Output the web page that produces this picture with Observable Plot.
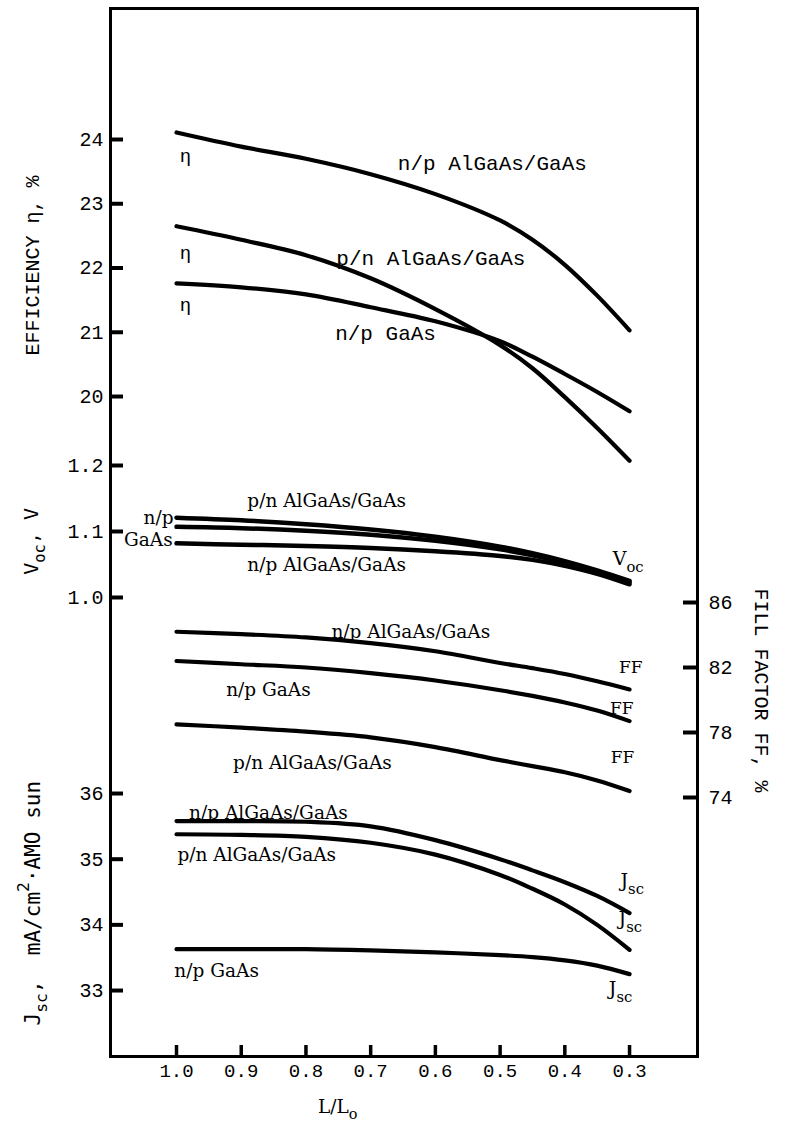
<!DOCTYPE html>
<html>
<head>
<meta charset="utf-8">
<script src="https://cdn.jsdelivr.net/npm/d3@7"></script>
<script src="https://cdn.jsdelivr.net/npm/@observablehq/plot@0.6"></script>
<style>
  html, body { margin: 0; padding: 0; background: #fff; }
  #chart { width: 785px; height: 1135px; }
</style>
</head>
<body>
<div id="chart"></div>
<script>
// ---- x positions (L/Lo) ----
const lRatio = [1.0, 0.9, 0.8, 0.7, 0.6, 0.5, 0.45, 0.4, 0.35, 0.3];
const xTicks = [1.0, 0.9, 0.8, 0.7, 0.6, 0.5, 0.4, 0.3];

// ---- efficiency, % ----
const effNpAlGaAs = [24.11, 23.89, 23.70, 23.46, 23.15, 22.74, 22.44, 22.05, 21.57, 21.03];
const effPnAlGaAs = [22.65, 22.44, 22.20, 21.84, 21.36, 20.80, 20.44, 19.99, 19.51, 19.00];
const effNpGaAs   = [21.76, 21.70, 21.59, 21.39, 21.17, 20.86, 20.62, 20.35, 20.07, 19.77];

// ---- Voc, V ----
const vocPnAlGaAs = [1.121, 1.117, 1.111, 1.103, 1.092, 1.077, 1.067, 1.055, 1.041, 1.025];
const vocNpGaAs   = [1.107, 1.105, 1.101, 1.095, 1.086, 1.073, 1.064, 1.053, 1.039, 1.023];
const vocNpAlGaAs = [1.082, 1.080, 1.078, 1.075, 1.070, 1.063, 1.057, 1.048, 1.036, 1.020];

// ---- fill factor, % ----
const ffNpAlGaAs = [84.2, 84.05, 83.85, 83.5, 83.0, 82.28, 81.96, 81.6, 81.15, 80.65];
const ffNpGaAs   = [82.4, 82.2, 82.0, 81.65, 81.2, 80.6, 80.25, 79.85, 79.35, 78.7];
const ffPnAlGaAs = [78.5, 78.3, 78.05, 77.7, 77.1, 76.3, 75.93, 75.55, 75.05, 74.4];

// ---- Jsc, mA/cm2 AM0 ----
const jscNpAlGaAs = [35.58, 35.58, 35.57, 35.5, 35.29, 35.0, 34.83, 34.65, 34.44, 34.18];
const jscPnAlGaAs = [35.38, 35.37, 35.34, 35.25, 35.07, 34.76, 34.55, 34.31, 34.0, 33.62];
const jscNpGaAs   = [33.63, 33.63, 33.63, 33.61, 33.58, 33.54, 33.51, 33.46, 33.38, 33.25];

// ---- axis ticks ----
const effTicks = [20, 21, 22, 23, 24];
const vocTicks = [1.0, 1.1, 1.2];
const ffTicks  = [74, 78, 82, 86];
const jscTicks = [33, 34, 35, 36];

// ---- curve labels: [text, L/Lo, value] ----
const effLabels = [
  ["n/p AlGaAs/GaAs", 0.512, 23.63],
  ["p/n AlGaAs/GaAs", 0.607, 22.15],
  ["n/p GaAs", 0.677, 20.99]
];
const etaLabels = [[0.986, 23.75], [0.986, 22.24], [0.986, 21.42]];
const vocLabels = [
  ["p/n AlGaAs/GaAs", 0.768, 1.1455],
  ["n/p AlGaAs/GaAs", 0.768, 1.0485]
];
const vocLeftLabels = [["n/p", 1.0046, 1.1197], ["GaAs", 1.0060, 1.0864]];
const vocEndLabels = [["V_{oc}", 0.326, 1.059]];
const ffLabels = [
  ["n/p AlGaAs/GaAs", 0.638, 84.15],
  ["n/p GaAs", 0.858, 80.58],
  ["p/n AlGaAs/GaAs", 0.790, 76.09]
];
const ffMarks = [[0.298, 82.0], [0.312, 79.48], [0.311, 76.46]];
const jscLabels = [
  ["n/p AlGaAs/GaAs", 0.858, 35.70],
  ["p/n AlGaAs/GaAs", 0.876, 35.06],
  ["n/p GaAs", 0.938, 33.29]
];
const jscEndLabels = [["J_{sc}", 0.314, 34.67], ["J_{sc}", 0.317, 34.09], ["J_{sc}", 0.332, 33.02]];

// ---- panel calibration onto one shared vertical scale ----
const toU = {
  eff: v => v,
  voc: v => 16.872 + (v - 1.0) * 10.272,
  ff:  v => 16.794 + (v - 86) * 0.2529,
  jsc: v => 13.821 + (v - 36) * 1.0221
};

const series = [
  ["eff", "e1", effNpAlGaAs], ["eff", "e2", effPnAlGaAs], ["eff", "e3", effNpGaAs],
  ["voc", "v1", vocPnAlGaAs], ["voc", "v2", vocNpGaAs], ["voc", "v3", vocNpAlGaAs],
  ["ff", "f1", ffNpAlGaAs], ["ff", "f2", ffNpGaAs], ["ff", "f3", ffPnAlGaAs],
  ["jsc", "j1", jscNpAlGaAs], ["jsc", "j2", jscPnAlGaAs], ["jsc", "j3", jscNpGaAs]
];
const rows = series.flatMap(([panel, id, vals]) =>
  vals.map((v, i) => ({ L: lRatio[i], u: toU[panel](v), id, panel })));

const leftTicks = [
  ...effTicks.map(v => ({ u: toU.eff(v), label: String(v) })),
  ...vocTicks.map(v => ({ u: toU.voc(v), label: v.toFixed(1) })),
  ...jscTicks.map(v => ({ u: toU.jsc(v), label: String(v) }))
];
const rightTicks = ffTicks.map(v => ({ u: toU.ff(v), label: String(v) }));

const W = 785, H = 1135, mL = 110, mR = 88, mT = 8, mB = 79;
const innerW = W - mL - mR, innerH = H - mT - mB;
const mono = "Liberation Mono, DejaVu Sans Mono, monospace";
const serif = "DejaVu Serif, Liberation Serif, serif";
const monoSans = "DejaVu Sans Mono, monospace";

const effTitle = [{ text: "EFFICIENCY η, %", u: toU.eff(22.04) }];
const vocTitle = [{ text: "V_{oc}, V", u: toU.voc(1.085) }];
const jscTitle = [{ text: "J_{sc},  mA/cm^{2}·AMO sun", u: toU.jsc(34.33) }];
const ffTitle  = [{ text: "FILL FACTOR FF, %", u: toU.ff(80.58) }];

const serifLabel = { fontFamily: serif, fontSize: 18.5 };

const plot = Plot.plot({
  width: W, height: H,
  marginLeft: mL, marginRight: mR, marginTop: mT, marginBottom: mB,
  x: { domain: [1.102, 0.195], axis: null },
  y: { domain: [9.728, 26.039], axis: null },
  style: { background: "white", color: "black" },
  marks: [
    Plot.frame({ stroke: "black", strokeWidth: 3 }),
    // ticks
    Plot.tickY(leftTicks, { y: "u", insetRight: innerW - 13, strokeWidth: 4 }),
    Plot.tickY(rightTicks, { y: "u", insetLeft: innerW - 14, strokeWidth: 4 }),
    Plot.tickX(xTicks, { x: d => d, insetTop: innerH - 11, strokeWidth: 3.5 }),
    // tick labels
    Plot.text(leftTicks, { y: "u", text: "label", frameAnchor: "left", textAnchor: "end", dx: -7, fontFamily: mono, fontSize: 20 }),
    Plot.text(rightTicks, { y: "u", text: "label", frameAnchor: "right", textAnchor: "start", dx: 11, fontFamily: mono, fontSize: 20 }),
    Plot.text(xTicks, { x: d => d, text: d => d.toFixed(1), frameAnchor: "bottom", textAnchor: "middle", dy: 20, fontFamily: mono, fontSize: 19 }),
    Plot.text(["L/L_{o}"], { x: () => 0.751, text: d => d, frameAnchor: "bottom", textAnchor: "middle", dy: 56, ...serifLabel }),
    // axis titles
    Plot.text(effTitle, { y: "u", text: "text", frameAnchor: "left", textAnchor: "middle", dx: -78, rotate: -90, fontFamily: mono, fontSize: 20 }),
    Plot.text(vocTitle, { y: "u", text: "text", frameAnchor: "left", textAnchor: "middle", dx: -79, rotate: -90, fontFamily: monoSans, fontSize: 20 }),
    Plot.text(jscTitle, { y: "u", text: "text", frameAnchor: "left", textAnchor: "middle", dx: -77, rotate: -90, fontFamily: monoSans, fontSize: 21 }),
    Plot.text(ffTitle, { y: "u", text: "text", frameAnchor: "right", textAnchor: "middle", dx: 64, rotate: 90, fontFamily: mono, fontSize: 20 }),
    // curves
    Plot.line(rows.filter(r => r.panel !== "voc"), { x: "L", y: "u", z: "id", curve: "catmull-rom", stroke: "black", strokeWidth: 4.2, strokeLinecap: "round" }),
    Plot.line(rows.filter(r => r.panel === "voc"), { x: "L", y: "u", z: "id", curve: "catmull-rom", stroke: "black", strokeWidth: 4.5, strokeLinecap: "round" }),
    // curve labels
    Plot.text(effLabels, { x: d => d[1], y: d => toU.eff(d[2]), text: d => d[0], fontFamily: mono, fontSize: 21 }),
    Plot.text(etaLabels, { x: d => d[0], y: d => toU.eff(d[1]), text: () => "η", fontFamily: mono, fontSize: 19 }),
    Plot.text(vocLabels, { x: d => d[1], y: d => toU.voc(d[2]), text: d => d[0], ...serifLabel }),
    Plot.text(vocLeftLabels, { x: d => d[1], y: d => toU.voc(d[2]), text: d => d[0], textAnchor: "end", ...serifLabel }),
    Plot.text(vocEndLabels, { x: d => d[1], y: d => toU.voc(d[2]), text: d => d[0], textAnchor: "start", ...serifLabel, fontSize: 19 }),
    Plot.text(ffLabels, { x: d => d[1], y: d => toU.ff(d[2]), text: d => d[0], ...serifLabel }),
    Plot.text(ffMarks, { x: d => d[0], y: d => toU.ff(d[1]), text: () => "FF", fontFamily: serif, fontSize: 17 }),
    Plot.text(jscLabels, { x: d => d[1], y: d => toU.jsc(d[2]), text: d => d[0], ...serifLabel }),
    Plot.text(jscEndLabels, { x: d => d[1], y: d => toU.jsc(d[2]), text: d => d[0], textAnchor: "start", ...serifLabel, fontSize: 19 })
  ]
});

// render _{sub} and ^{sup} as real sub/superscript tspans
const NS = "http://www.w3.org/2000/svg";
plot.querySelectorAll("text").forEach(t => {
  const targets = t.querySelector("tspan") ? [...t.querySelectorAll("tspan")] : [t];
  for (const el of targets) {
    const s = el.textContent;
    if (!/[_^]\{/.test(s)) continue;
    el.textContent = "";
    const re = /([_^])\{([^}]*)\}/g;
    let last = 0, m;
    const add = (str, kind) => {
      const sp = document.createElementNS(NS, "tspan");
      sp.textContent = str;
      if (kind) {
        sp.setAttribute("baseline-shift", kind === "_" ? "-0.45em" : "0.7em");
        sp.style.fontSize = "0.78em";
      }
      el.appendChild(sp);
    };
    while ((m = re.exec(s))) {
      if (m.index > last) add(s.slice(last, m.index));
      add(m[2], m[1]);
      last = re.lastIndex;
    }
    if (last < s.length) add(s.slice(last));
  }
});

document.getElementById("chart").appendChild(plot);
</script>
</body>
</html>
